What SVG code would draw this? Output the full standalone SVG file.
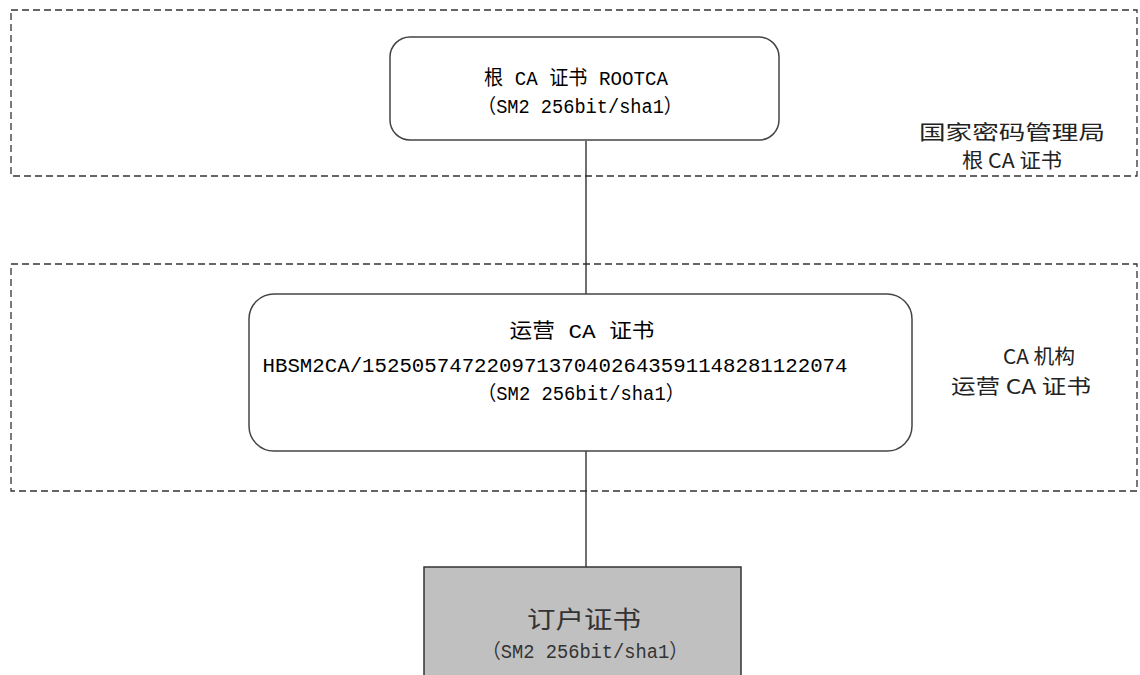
<svg xmlns="http://www.w3.org/2000/svg" width="1140" height="675" viewBox="0 0 1140 675">
  <style>
    .zone { fill: none; stroke: #333; stroke-width: 1.3; stroke-dasharray: 7 4; }
    .node { fill: #fff; stroke: #444; stroke-width: 1.5; }
    .leaf { fill: #c0c0c0; stroke: #333; stroke-width: 1.5; }
    .t { font-family: "Liberation Mono", "Noto Sans CJK SC", monospace; fill: #000; text-anchor: middle; font-size: 20px; }
    .lbl { font-family: "Noto Sans CJK SC", "Liberation Sans", sans-serif; fill: #222; text-anchor: middle; font-size: 20px; }
    .conn { stroke: #222; stroke-width: 1.3; fill: none; }
  </style>
  <rect width="1140" height="675" fill="#fff"/>
  <g id="zone-root">
    <rect class="zone" x="11" y="10" width="1126" height="166"/>
    <text class="lbl" x="1012" y="140" textLength="186" lengthAdjust="spacingAndGlyphs">国家密码管理局</text>
    <text class="lbl" x="1012" y="168" textLength="100" lengthAdjust="spacingAndGlyphs">根 CA 证书</text>
  </g>
  <g id="zone-ca">
    <rect class="zone" x="11" y="264" width="1126" height="227"/>
    <text class="lbl" x="1039" y="364" textLength="72" lengthAdjust="spacingAndGlyphs">CA 机构</text>
    <text class="lbl" x="1021" y="394" textLength="140" lengthAdjust="spacingAndGlyphs">运营 CA 证书</text>
  </g>
  <g id="connectors">
    <line class="conn" x1="586" y1="141" x2="586" y2="294"/>
    <line class="conn" x1="586" y1="451" x2="586" y2="567"/>
  </g>
  <g id="node-root">
    <rect class="node" x="390" y="37" width="389" height="103" rx="20" ry="20"/>
    <text class="t" x="576" y="85" textLength="184" lengthAdjust="spacingAndGlyphs">根 CA 证书 ROOTCA</text>
    <text class="t" x="580" y="113" textLength="205" lengthAdjust="spacingAndGlyphs">（SM2 256bit/sha1）</text>
  </g>
  <g id="node-ca">
    <rect class="node" x="249" y="294" width="663" height="157" rx="25" ry="25"/>
    <text class="t" x="582" y="338" textLength="145" lengthAdjust="spacingAndGlyphs">运营 CA 证书</text>
    <text class="t" x="555" y="372" textLength="585" lengthAdjust="spacingAndGlyphs">HBSM2CA/152505747220971370402643591148281122074</text>
    <text class="t" x="581" y="400" textLength="207" lengthAdjust="spacingAndGlyphs">（SM2 256bit/sha1）</text>
  </g>
  <g id="node-user">
    <rect class="leaf" x="424" y="567" width="317" height="120"/>
    <text class="t" x="584" y="628" textLength="114" lengthAdjust="spacingAndGlyphs" style="font-size:24px;fill:#333">订户证书</text>
    <text class="t" x="585" y="658" textLength="206" lengthAdjust="spacingAndGlyphs" style="fill:#333">（SM2 256bit/sha1）</text>
  </g>
</svg>
